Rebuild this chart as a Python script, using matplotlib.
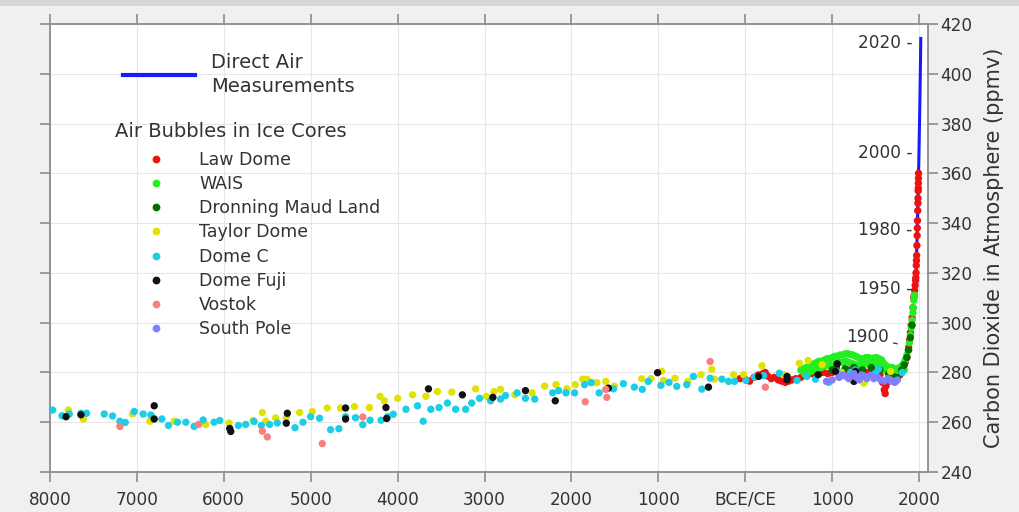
import matplotlib
matplotlib.use("Agg")
import matplotlib.pyplot as plt
from matplotlib.lines import Line2D
from matplotlib.patches import Rectangle

plt.rcParams['font.family'] = ['DejaVu Sans']

# ---------------- data (year: negative = BCE) ----------------
direct_year = [1959, 1965, 1970, 1975, 1980, 1985, 1990, 1995, 2000, 2005, 2010, 2015, 2020]
direct_co2 = [316.0, 320.0, 325.7, 331.1, 338.8, 346.4, 354.4, 360.8, 369.7, 380.0, 389.9, 401.0, 414.2]

law_year = [-60, 10, 50, 100, 150, 200, 230, 260, 300, 330, 380, 420, 460, 500, 540, 580, 640,
            690, 750, 800, 850, 900, 950, 1000, 1050, 1100, 1150, 1200, 1250, 1300, 1350, 1400,
            1450, 1500, 1550, 1580, 1600, 1610, 1620, 1650, 1700, 1720, 1750, 1780, 1800, 1820,
            1840, 1860, 1880, 1890, 1900, 1910, 1920, 1930, 1940, 1945, 1950, 1955, 1960, 1962,
            1965, 1968, 1970, 1972, 1975, 1978, 1980, 1982, 1985, 1987, 1988, 1990, 1991, 1992,
            1993, 1994]
law_co2 = [277.5, 277.0, 276.5, 278.0, 279.0, 279.5, 280.0, 278.5, 277.5, 278.0, 277.0, 276.5,
           276.0, 276.5, 277.0, 277.5, 278.0, 279.0, 279.5, 279.2, 279.5, 280.0, 279.5, 280.0,
           280.5, 280.0, 280.5, 281.0, 281.5, 281.0, 280.5, 280.0, 280.5, 281.0, 279.0, 276.0,
           273.0, 271.5, 274.5, 276.5, 277.0, 277.5, 277.5, 279.0, 281.0, 283.0, 284.0, 286.0,
           290.0, 293.0, 296.0, 299.0, 302.0, 306.0, 310.0, 311.0, 313.0, 315.0, 317.0, 318.0,
           320.0, 323.0, 325.0, 327.0, 331.0, 335.0, 338.0, 341.0, 345.0, 348.0, 350.0, 353.0,
           354.0, 356.0, 358.0, 360.0]

wais_year = [640, 670, 700, 730, 760, 790, 820, 850, 880, 910, 940, 970, 1000, 1030, 1060, 1090,
             1120, 1150, 1180, 1210, 1240, 1270, 1300, 1330, 1360, 1390, 1420, 1450, 1480, 1510,
             1540, 1570, 1600, 1630, 1660, 1690, 1720, 1750, 1780, 1800, 1820, 1840, 1860, 1875,
             1890, 1900, 1910, 1920, 1930, 1935, 1940, 1945,
             680, 720, 760, 800, 840, 880, 920, 960, 1000, 1040, 1080, 1120, 1160, 1200, 1240,
             1280, 1320, 1360, 1400, 1440, 1480, 1520, 1560, 1600, 1640, 1680, 1720, 1760, 1800,
             1830]
wais_co2 = [281.0, 281.5, 282.0, 282.5, 283.0, 283.5, 284.0, 284.5, 284.5, 285.0, 285.5, 285.5,
            286.0, 286.5, 286.5, 287.0, 287.0, 287.5, 287.5, 287.2, 287.0, 286.5, 286.0, 285.5,
            285.5, 286.0, 286.0, 285.5, 285.8, 286.0, 285.5, 285.0, 283.5, 282.5, 282.0, 282.0,
            281.5, 281.5, 282.0, 282.5, 283.5, 285.0, 287.0, 289.0, 292.0, 295.0, 298.0, 301.0,
            304.0, 306.0, 309.0, 311.0,
            279.5, 280.0, 280.5, 281.0, 281.5, 282.0, 282.5, 283.0, 283.0, 283.5, 284.0, 284.0,
            284.5, 284.0, 283.5, 283.0, 283.0, 283.0, 283.5, 283.0, 283.5, 283.0, 282.5, 281.0,
            280.0, 279.5, 279.0, 279.5, 280.0, 281.0]

dml_year = [1000, 1050, 1150, 1250, 1300, 1350, 1450, 1550, 1650, 1700, 1750, 1800, 1830, 1860,
            1880, 1900, 1920]
dml_co2 = [281.0, 282.0, 281.5, 282.0, 280.5, 281.0, 282.0, 281.0, 279.5, 278.5, 278.0, 281.0,
           283.0, 286.0, 289.0, 294.0, 299.0]

taylor_year = [-7789, -7617, -7050, -6851, -6571, -6208, -5940, -5664, -5557, -5518, -5403, -5281,
               -5128, -4982, -4810, -4656, -4497, -4325, -4202, -4153, -4000, -3828, -3675, -3541,
               -3377, -3102, -2980, -2892, -2816, -2652, -2453, -2308, -2178, -2052, -1956, -1872,
               -1823, -1708, -1605, -1506, -1192, -1085, -963, -940, -808, -662, -508, -385, -354,
               -135, -19, 192, 442, 623, 723, 885, 1108, 1365, 1673]
taylor_co2 = [264.9, 261.3, 263.3, 260.4, 260.4, 259.1, 259.7, 260.7, 263.9, 260.4, 261.7, 261.7,
              263.9, 264.3, 265.7, 265.7, 266.3, 265.9, 270.4, 268.6, 269.6, 271.0, 270.4, 272.3,
              272.1, 273.4, 270.4, 272.3, 273.2, 271.0, 271.8, 274.5, 275.1, 273.4, 275.1, 277.3,
              277.3, 275.9, 276.4, 274.5, 277.5, 277.5, 280.5, 276.8, 277.7, 276.4, 279.1, 281.3,
              277.3, 279.1, 279.1, 282.7, 279.1, 283.7, 284.8, 283.1, 280.0, 275.7, 280.4]

domec_year = [-7970, -7862, -7778, -7644, -7579, -7376, -7280, -7196, -7134, -7031, -6928, -6840,
              -6713, -6637, -6533, -6437, -6342, -6238, -6112, -6047, -5832, -5748, -5652, -5568,
              -5472, -5384, -5181, -5089, -5001, -4898, -4771, -4676, -4599, -4485, -4401, -4317,
              -4191, -4115, -4050, -3904, -3771, -3706, -3618, -3523, -3427, -3332, -3217, -3148,
              -3057, -2930, -2816, -2758, -2625, -2529, -2422, -2216, -2147, -2063, -1964, -1849,
              -1772, -1681, -1517, -1402, -1276, -1185, -1116, -971, -877, -788, -673, -596, -500,
              -404, -269, -192, -123, 8, 108, 212, 392, 596, 709, 808, 962, 1054, 1077, 1212, 1266,
              1288, 1500, 1534, 1669, 1731, 1808]
domec_co2 = [264.9, 262.6, 263.3, 263.6, 263.6, 263.3, 262.5, 260.4, 259.9, 264.3, 263.3, 262.9,
             261.3, 258.7, 260.0, 260.0, 258.3, 260.9, 260.0, 260.7, 258.7, 259.1, 260.3, 258.7,
             259.1, 259.7, 257.8, 260.0, 262.2, 261.6, 257.0, 257.4, 262.2, 261.8, 259.0, 260.8,
             260.8, 262.2, 263.2, 265.2, 266.6, 260.4, 265.2, 265.9, 267.7, 265.2, 265.2, 267.7,
             269.6, 268.6, 269.3, 270.7, 271.8, 269.6, 269.3, 271.8, 272.7, 271.8, 271.8, 275.1,
             275.9, 271.8, 273.4, 275.5, 274.1, 273.2, 276.4, 274.8, 276.0, 274.4, 275.1, 278.4,
             273.3, 277.7, 277.3, 276.4, 276.4, 276.8, 278.1, 278.7, 279.7, 276.8, 278.4, 277.3,
             276.0, 280.4, 278.4, 280.0, 281.0, 278.7, 279.7, 281.3, 277.0, 276.4, 280.0]

fuji_year = [-7816, -7644, -6801, -6801, -5932, -5920, -5269, -5281, -4599, -4599, -4134, -4126,
             -3645, -3255, -2904, -2529, -2186, -1575, -1009, -423, 154, 481, 481, 838, 1058, 1038,
             1250, 1269]
fuji_co2 = [262.2, 263.0, 266.6, 261.3, 257.5, 256.3, 263.6, 259.6, 265.7, 261.3, 265.9, 261.5,
            273.4, 271.0, 270.0, 272.7, 268.6, 273.7, 279.9, 274.1, 278.4, 278.4, 277.1, 279.1,
            283.5, 280.4, 276.4, 280.4]

vostok_year = [-7196, -6292, -5557, -5499, -4867, -4401, -1841, -1605, -1593, -404, 231]
vostok_co2 = [258.3, 259.1, 256.4, 254.1, 251.4, 262.1, 268.2, 273.2, 270.0, 284.4, 274.1]

spole_year = [935, 1000, 1080, 1120, 1160, 1190, 1220, 1250, 1280, 1310, 1340, 1370, 1400, 1440,
              1480, 1520, 1560, 1600, 1640, 1680, 1720, 1750]
spole_co2 = [276.4, 277.0, 278.0, 279.0, 278.5, 277.5, 278.5, 279.5, 278.0, 277.0, 279.0, 278.5,
             277.5, 278.8, 277.5, 278.0, 277.0, 276.5, 277.5, 276.5, 276.0, 277.0]

x_ticks = [-8000, -7000, -6000, -5000, -4000, -3000, -2000, -1000, 0, 1000, 2000]
x_ticklabels = ['8000', '7000', '6000', '5000', '4000', '3000', '2000', '1000', 'BCE/CE', '1000', '2000']
y_ticks = [240, 260, 280, 300, 320, 340, 360, 380, 400, 420]

# year labels along the modern rise: (label, co2 level)
year_marks = ['2020', '2000', '1980', '1950']
year_mark_co2 = [412.4, 368.2, 337.2, 313.5]

# ---------------- styling ----------------
C_LAW = '#ee1111'
C_WAIS = '#22ee22'
C_DML = '#006e00'
C_TAYLOR = '#e2e200'
C_DOMEC = '#1ccde6'
C_FUJI = '#111111'
C_VOSTOK = '#f77f7f'
C_SPOLE = '#7f7fff'
C_BLUE = '#1a1aff'
SPINE = '#8c8c8c'
TXT = '#333333'

W, H = 1020, 512
fig = plt.figure(figsize=(W / 100, H / 100), dpi=100)
fig.patch.set_facecolor('#f0f0f0')
fig.patches.append(Rectangle((0, 1 - 6 / H), 1, 6 / H, transform=fig.transFigure,
                             facecolor='#d6d6d6', edgecolor='none', zorder=0))

ax = fig.add_axes([50 / W, 40 / H, 878 / W, 448 / H])
ax.set_facecolor('white')
ax.set_xlim(-8000, 2103)
ax.set_ylim(240, 420)

ms = 28
ax.plot(direct_year, direct_co2, color=C_BLUE, lw=2.2, zorder=2)
series = [
    (law_year, law_co2, C_LAW),
    (wais_year, wais_co2, C_WAIS),
    (dml_year, dml_co2, C_DML),
    (taylor_year, taylor_co2, C_TAYLOR),
    (domec_year, domec_co2, C_DOMEC),
    (fuji_year, fuji_co2, C_FUJI),
    (vostok_year, vostok_co2, C_VOSTOK),
    (spole_year, spole_co2, C_SPOLE),
]
for i, (xs, ys, c) in enumerate(series):
    ax.scatter(xs, ys, s=ms, color=c, edgecolors='none', zorder=3 + i)

ax.set_xticks(x_ticks)
ax.set_xticklabels(x_ticklabels)
ax.set_yticks(y_ticks)
ax.grid(True, color='#e6e6e6', lw=0.8)
ax.set_axisbelow(True)
for s in ax.spines.values():
    s.set_color(SPINE)
    s.set_linewidth(1.3)
ax.tick_params(axis='x', which='both', top=True, bottom=True, direction='out', length=7,
               width=1.2, color=SPINE, labelsize=12.2, labelcolor=TXT, pad=6.5)
ax.tick_params(axis='y', which='both', left=True, right=True, labelleft=False, labelright=True,
               direction='out', length=7, width=1.2, color=SPINE, labelsize=12.2,
               labelcolor=TXT, pad=2)
ax.yaxis.set_label_position('right')
ax.set_ylabel('Carbon Dioxide in Atmosphere (ppmv)', fontsize=15, color=TXT, labelpad=8)

# year labels at the right edge
for lab, yv in zip(year_marks, year_mark_co2):
    ax.text(0.982, yv, lab + ' -', transform=ax.get_yaxis_transform(), ha='right',
            va='center', fontsize=12.2, color=TXT, zorder=20)
ax.annotate('1900', xy=(0.965, 291.5), xycoords=ax.get_yaxis_transform(),
            xytext=(0.956, 294.2), textcoords=ax.get_yaxis_transform(), ha='right', va='center',
            fontsize=12.2, color=TXT,
            arrowprops=dict(arrowstyle='-', color=TXT, lw=0.9, shrinkA=1, shrinkB=0))

# legends
leg1 = fig.legend(handles=[Line2D([], [], color=C_BLUE, lw=3)],
                  labels=['Direct Air\nMeasurements'], loc='upper left',
                  bbox_to_anchor=(123 / W, 1 - 53 / H), bbox_transform=fig.transFigure,
                  frameon=False, fontsize=14, handlelength=3.7, handletextpad=0.82,
                  borderpad=0, borderaxespad=0)
for t in leg1.get_texts():
    t.set_color(TXT)
    t.set_linespacing(1.3)

names = ['Law Dome', 'WAIS', 'Dronning Maud Land', 'Taylor Dome', 'Dome C', 'Dome Fuji',
         'Vostok', 'South Pole']
handles = [Line2D([], [], ls='none', marker='o', markersize=5.6, markeredgewidth=0,
                  markerfacecolor=c) for (_, _, c) in series]
leg2 = fig.legend(handles=handles, labels=names, loc='upper left',
                  bbox_to_anchor=(115.5 / W, 1 - 122 / H), bbox_transform=fig.transFigure,
                  frameon=False, fontsize=12.5, title='Air Bubbles in Ice Cores',
                  title_fontsize=14, alignment='left', handlelength=4.72, handletextpad=0.1,
                  labelspacing=0.36, borderpad=0, borderaxespad=0)
leg2._legend_box.sep = 7
leg2.get_title().set_color(TXT)
for t in leg2.get_texts():
    t.set_color(TXT)

fig.savefig('out.png', dpi=100, facecolor=fig.get_facecolor())
